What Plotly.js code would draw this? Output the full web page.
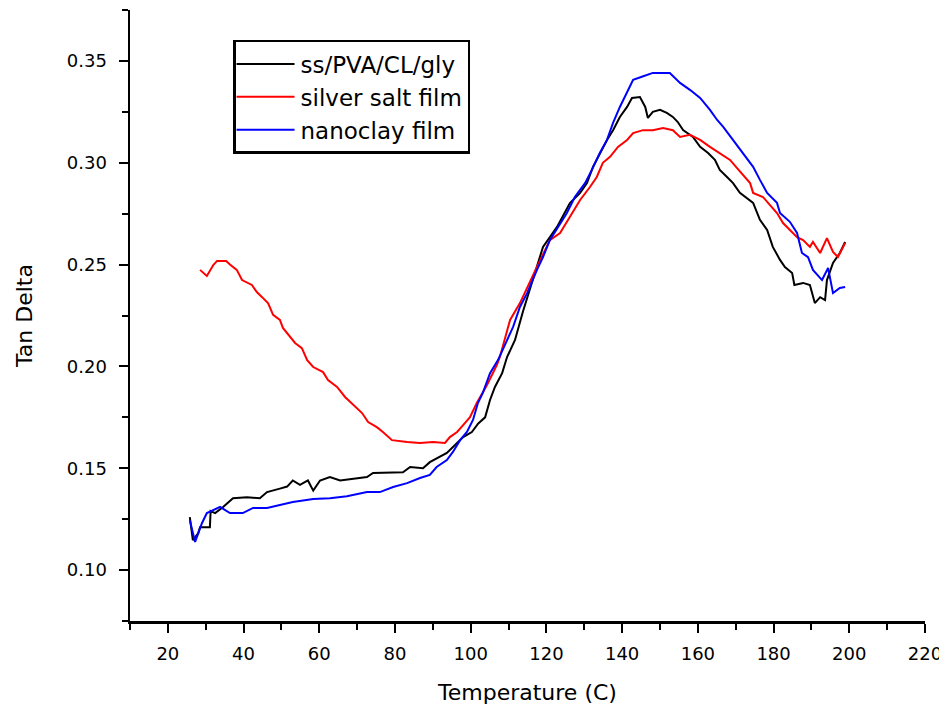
<!DOCTYPE html>
<html>
<head>
<meta charset="utf-8">
<script src="https://cdn.plot.ly/plotly-3.0.1.min.js"></script>
<style>html,body{margin:0;padding:0;background:#fff;}#chart{width:939px;height:709px;}</style>
</head>
<body>
<div id="chart"></div>
<script>
var seriesNames = ["ss/PVA/CL/gly", "silver salt film", "nanoclay film"];

var tempBlack = [25.8,26.6,28.0,28.5,31.1,31.3,32.5,34.6,37.2,40.9,44.3,46.2,49.6,51.5,53.0,54.9,57.0,58.4,60.2,62.8,65.5,69.0,72.6,74.2,77.9,82.1,84.0,87.4,89.2,91.9,93.7,96.4,98.0,100.3,102.0,103.8,105.1,106.4,108.3,109.6,111.7,113.8,116.0,119.1,122.8,126.2,128.9,130.7,132.3,134.1,136.0,137.6,139.4,141.3,142.6,144.7,146.1,146.8,148.1,150.0,151.8,153.4,154.7,156.1,158.7,160.6,162.7,164.5,165.8,167.7,169.3,171.1,172.9,174.6,176.4,178.3,179.8,181.7,183.0,184.9,185.5,187.8,189.6,190.9,192.3,193.6,194.1,195.7,197.5,198.9];
var tanBlack = [0.126,0.1147,0.118,0.121,0.121,0.129,0.128,0.131,0.1353,0.1358,0.1353,0.1383,0.140,0.141,0.144,0.1418,0.144,0.139,0.144,0.1457,0.144,0.145,0.1457,0.1477,0.1477,0.148,0.1506,0.150,0.153,0.1555,0.1575,0.1624,0.1653,0.1678,0.172,0.175,0.1835,0.1899,0.1967,0.2046,0.213,0.227,0.240,0.2587,0.2685,0.2802,0.2852,0.290,0.298,0.3048,0.3112,0.316,0.3225,0.3274,0.3318,0.3323,0.3274,0.322,0.325,0.326,0.3245,0.3225,0.320,0.316,0.3127,0.3078,0.3048,0.3014,0.2965,0.293,0.290,0.2852,0.2827,0.2803,0.272,0.267,0.2587,0.2523,0.2488,0.2459,0.240,0.241,0.240,0.2311,0.234,0.2326,0.2424,0.2508,0.2557,0.2611];

var tempRed = [28.5,30.3,32.0,33.0,35.4,36.4,38.2,39.6,42.2,43.5,44.9,46.5,47.8,49.6,50.4,52.3,53.6,55.4,56.8,58.4,61.0,62.3,64.7,66.8,69.0,71.3,72.9,75.2,76.8,79.2,83.2,86.6,90.0,93.2,94.5,96.4,98.0,99.8,101.6,104.3,106.9,107.7,110.4,113.0,117.5,120.9,123.6,126.2,128.9,131.5,133.3,134.9,136.8,138.9,141.3,142.9,145.5,148.1,150.8,153.4,155.3,157.9,160.6,163.2,165.8,168.5,170.3,172.4,173.8,174.6,177.2,179.0,180.9,182.5,184.3,186.2,187.8,189.6,190.4,192.3,194.1,195.7,197.0,198.3,198.9];
var tanRed = [0.2474,0.2444,0.2498,0.2518,0.2518,0.250,0.2474,0.2424,0.240,0.2365,0.234,0.231,0.2253,0.2228,0.2189,0.2144,0.2115,0.209,0.2031,0.1997,0.1972,0.1933,0.1899,0.185,0.181,0.1771,0.1727,0.1702,0.1678,0.1638,0.1629,0.1624,0.1629,0.1624,0.1653,0.1678,0.1712,0.1751,0.182,0.1909,0.2007,0.2046,0.2228,0.2311,0.2488,0.262,0.2655,0.2734,0.2817,0.2881,0.293,0.300,0.3029,0.3078,0.3112,0.3146,0.316,0.316,0.317,0.316,0.3127,0.3137,0.3112,0.3078,0.3048,0.3014,0.2975,0.293,0.290,0.2852,0.2832,0.2793,0.2753,0.2704,0.267,0.2635,0.262,0.2587,0.2611,0.2557,0.263,0.2562,0.2537,0.2582,0.2606];

var tempBlue = [25.8,27.2,29.0,30.3,33.8,36.4,39.8,42.5,46.2,49.6,53.0,58.4,62.8,67.3,72.6,76.0,79.5,83.2,86.6,89.2,91.0,93.7,95.3,97.2,99.0,100.6,101.9,103.2,105.1,107.2,109.6,111.2,113.0,114.9,117.5,119.1,120.9,123.6,125.4,127.5,130.2,132.0,134.1,136.0,137.6,139.4,141.3,142.9,145.2,148.1,152.6,155.3,157.9,160.6,163.2,165.1,166.7,169.3,172.0,174.6,176.4,178.3,180.9,181.7,184.3,186.2,187.5,189.1,190.4,192.8,194.4,195.7,197.5,198.9];
var tanBlue = [0.1245,0.1138,0.123,0.128,0.131,0.128,0.128,0.1305,0.1305,0.132,0.1334,0.1349,0.1353,0.1363,0.1383,0.1383,0.1408,0.1427,0.1452,0.1467,0.1506,0.154,0.158,0.1638,0.1678,0.1737,0.182,0.187,0.1967,0.2031,0.213,0.2194,0.2292,0.236,0.2474,0.2537,0.262,0.2704,0.2753,0.2832,0.290,0.2965,0.3048,0.3112,0.3196,0.3274,0.3343,0.3407,0.3422,0.3441,0.3441,0.3392,0.3358,0.3318,0.326,0.321,0.3176,0.3112,0.3048,0.298,0.2916,0.2852,0.2803,0.2753,0.271,0.2655,0.2557,0.2537,0.2474,0.2424,0.2483,0.236,0.2385,0.239];

var xTickVals = [20,40,60,80,100,120,140,160,180,200,220];
var yTickVals = [0.10,0.15,0.20,0.25,0.30,0.35];

var FONT = "DejaVu Sans, Arial, sans-serif";

var traces = [
  {x: tempBlack, y: tanBlack, name: seriesNames[0], mode: "lines", line: {color: "#000000", width: 2}},
  {x: tempRed, y: tanRed, name: seriesNames[1], mode: "lines", line: {color: "#ff0000", width: 2}},
  {x: tempBlue, y: tanBlue, name: seriesNames[2], mode: "lines", line: {color: "#0000ff", width: 2}}
];

var layout = {
  width: 939, height: 709,
  margin: {l: 130, r: 14, t: 10, b: 88, autoexpand: false},
  paper_bgcolor: "#fff", plot_bgcolor: "#fff",
  font: {family: FONT, color: "#000", size: 18},
  showlegend: true,
  legend: {
    x: 0.1296, y: 0.951, xanchor: "left", yanchor: "top",
    bgcolor: "#fff", bordercolor: "#000", borderwidth: 2.5,
    font: {family: FONT, size: 23, color: "#000"},
    itemwidth: 55, tracegroupgap: 0
  },
  xaxis: {
    range: [10, 220], autorange: false,
    tickmode: "array", tickvals: xTickVals,
    ticks: "outside", ticklen: 9, tickwidth: 2, tickcolor: "#000",
    minor: {dtick: 10, tick0: 0, ticks: "outside", ticklen: 6, tickwidth: 2, tickcolor: "#000"},
    showline: true, linecolor: "#000", linewidth: 2.5, mirror: false,
    showgrid: false, zeroline: false,
    tickfont: {family: FONT, size: 18, color: "#000"},
    ticklabelstandoff: 6, ticklabeloverflow: "allow",
    title: {text: "Temperature (C)", font: {family: FONT, size: 22, color: "#000"}, standoff: 22}
  },
  yaxis: {
    range: [0.075, 0.375], autorange: false,
    tickmode: "array", tickvals: yTickVals, tickformat: ".2f",
    ticks: "outside", ticklen: 9, tickwidth: 2, tickcolor: "#000",
    minor: {dtick: 0.025, tick0: 0.075, ticks: "outside", ticklen: 6, tickwidth: 2, tickcolor: "#000"},
    showline: true, linecolor: "#000", linewidth: 2.5, mirror: false,
    showgrid: false, zeroline: false,
    tickfont: {family: FONT, size: 18, color: "#000"},
    ticklabelstandoff: 8,
    title: {text: "Tan Delta", font: {family: FONT, size: 22, color: "#000"}, standoff: 28}
  }
};

Plotly.newPlot("chart", traces, layout, {displayModeBar: false, staticPlot: true}).then(function () {
  var lines = document.querySelectorAll(".legend .traces .js-line");
  lines.forEach(function (p) { p.setAttribute("d", "M1,0h58"); });
});
</script>
</body>
</html>
